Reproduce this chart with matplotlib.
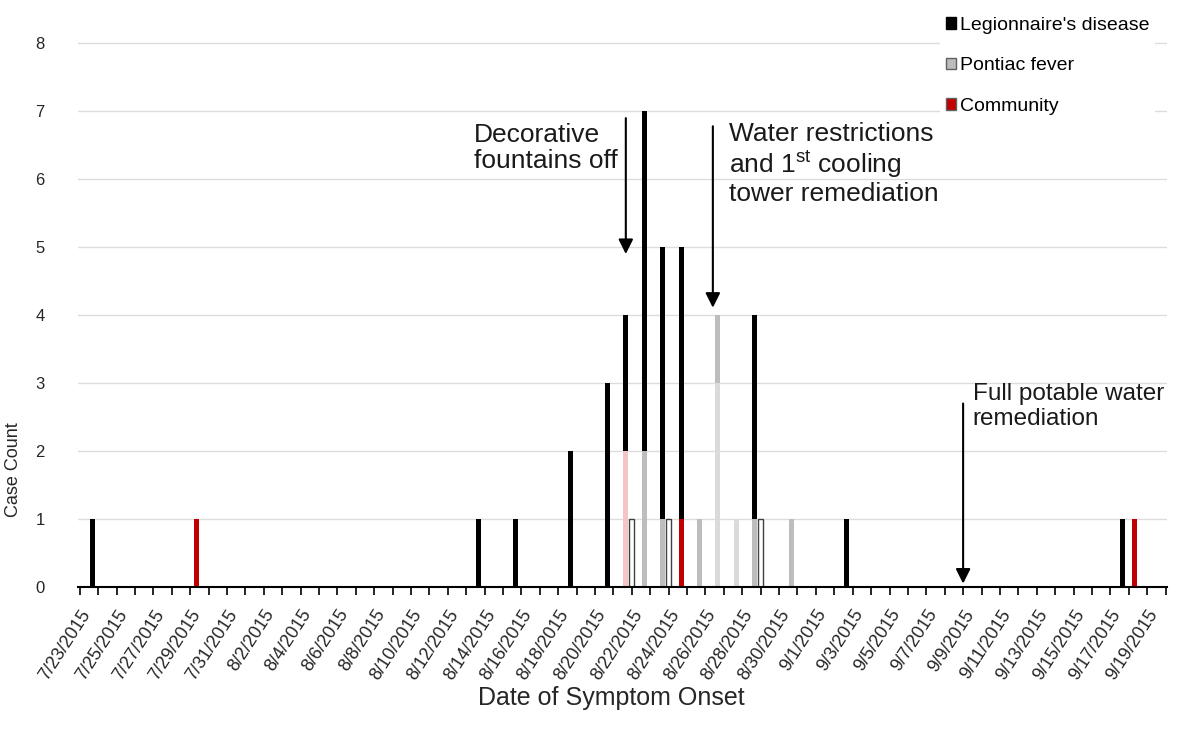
import numpy as np
import pandas as pd
import matplotlib
matplotlib.use('Agg')
import matplotlib.pyplot as plt
from matplotlib.patches import Patch

plt.rcParams['font.family'] = ['Liberation Sans', 'DejaVu Sans']
plt.rcParams['mathtext.fontset'] = 'custom'
plt.rcParams['mathtext.rm'] = 'Liberation Sans'

# one category per day, 7/23/2015 .. 9/20/2015
days = pd.date_range('2015-07-23', '2015-09-20', freq='D')
day_labels = [f'{d.month}/{d.day}/{d.year}' for d in days]
day_keys = [f'{d.month}/{d.day}' for d in days]

# case counts
legion_dates = ['7/24', '8/14', '8/16', '8/19', '8/21', '8/22', '8/23', '8/24', '8/25', '8/29', '9/3', '9/18']
legion_counts = [1, 1, 1, 2, 3, 2, 5, 4, 4, 3, 1, 1]

pontiac_dates = ['8/23', '8/24', '8/26', '8/27', '8/29', '8/31']
pontiac_counts = [2, 1, 1, 1, 1, 1]

pontiac_light_dates = ['8/27', '8/28']
pontiac_light_counts = [3, 1]

community_pink_dates = ['8/22']
community_pink_counts = [2]

community_stack_dates = ['8/25']
community_stack_counts = [1]

community_dates = ['7/29', '9/18']
community_counts = [1, 1]

outline_dates = ['8/22', '8/24', '8/29']
outline_counts = [1, 1, 1]

legend_labels = ["Legionnaire's disease", 'Pontiac fever', 'Community']


def to_array(dates, counts):
    arr = np.zeros(len(days))
    for d, c in zip(dates, counts):
        arr[day_keys.index(d)] = c
    return arr


legion = to_array(legion_dates, legion_counts)
pontiac = to_array(pontiac_dates, pontiac_counts)
pontiac_light = to_array(pontiac_light_dates, pontiac_light_counts)
pink = to_array(community_pink_dates, community_pink_counts)
comm_stack = to_array(community_stack_dates, community_stack_counts)
comm = to_array(community_dates, community_counts)
outline = to_array(outline_dates, outline_counts)

x = np.arange(len(days))
w = 0.27

fig = plt.figure(figsize=(11.79, 7.30), dpi=100)
ax = fig.add_axes([78 / 1179, 143 / 730, 1089 / 1179, 545 / 730])

bottom = np.zeros(len(days))
for arr, color in [(pontiac_light, '#dadada'), (pontiac, '#bdbdbd'), (pink, '#f5c4c4'),
                   (comm_stack, '#c00000'), (legion, 'black')]:
    m = arr > 0
    ax.bar(x[m] - 0.33, arr[m], width=w, bottom=bottom[m], color=color, linewidth=0)
    bottom += arr

m = comm > 0
ax.bar(x[m] + 0.33, comm[m], width=w, color='#c00000', linewidth=0)
m = outline > 0
ax.bar(x[m], outline[m], width=w, color='white', edgecolor='#404040', linewidth=1.0)

ax.set_xlim(-0.1, 59.08)
ax.set_ylim(0, 8.02)
ax.set_yticks(range(0, 9))
ax.yaxis.grid(True, color='#dcdcdc', linewidth=1)
ax.set_axisbelow(True)

for s in ['top', 'right', 'left']:
    ax.spines[s].set_visible(False)
ax.spines['bottom'].set_linewidth(1.5)

ax.set_xticks(x)
ax.set_xticklabels([lab if i % 2 == 0 else '' for i, lab in enumerate(day_labels)],
                   rotation=57, ha='right', va='top', rotation_mode='anchor', fontsize=13,
                   color='#262626')
ax.tick_params(axis='x', length=6, width=1.2, pad=8)
ax.tick_params(axis='y', length=0, pad=24, labelsize=12, labelcolor='#262626')

ax.set_xlabel('Date of Symptom Onset', fontsize=18, color='#262626')
ax.xaxis.set_label_coords(0.49, -0.182)
ax.set_ylabel('Case Count', fontsize=13, color='#262626')
ax.yaxis.set_label_coords(-0.0514, 0.215)

# annotations
arrow = dict(arrowstyle='-|>', color='black', lw=1.5, mutation_scale=22, shrinkA=0, shrinkB=0)
ax.annotate('', xy=(29.67, 4.9), xytext=(29.67, 6.9), arrowprops=arrow)
ax.text(21.41, 6.46, 'Decorative\nfountains off', fontsize=19, ha='left', va='center',
        linespacing=1.1, color='#1a1a1a')

ax.annotate('', xy=(34.4, 4.11), xytext=(34.4, 6.78), arrowprops=arrow)
ax.text(35.27, 6.23, 'Water restrictions\nand 1$^{\\mathrm{st}}$ cooling\ntower remediation',
        fontsize=19, ha='left', va='center', linespacing=1.1, color='#1a1a1a')

ax.annotate('', xy=(48.0, 0.05), xytext=(48.0, 2.7), arrowprops=arrow)
ax.text(48.53, 2.66, 'Full potable water\nremediation', fontsize=17.5, ha='left', va='center',
        linespacing=1.15, color='#1a1a1a')

handles = [Patch(facecolor='black', edgecolor='black'),
           Patch(facecolor='#bdbdbd', edgecolor='#606060'),
           Patch(facecolor='#c00000', edgecolor='#606060')]
fig.legend(handles, legend_labels, loc='upper left', bbox_to_anchor=(930 / 1179, 0.998),
           frameon=True, facecolor='white', edgecolor='none', framealpha=1, fontsize=14,
           handlelength=0.55, handleheight=0.55, handletextpad=0.2, labelspacing=1.2,
           borderpad=0.3)

fig.savefig('out.png', dpi=100)
